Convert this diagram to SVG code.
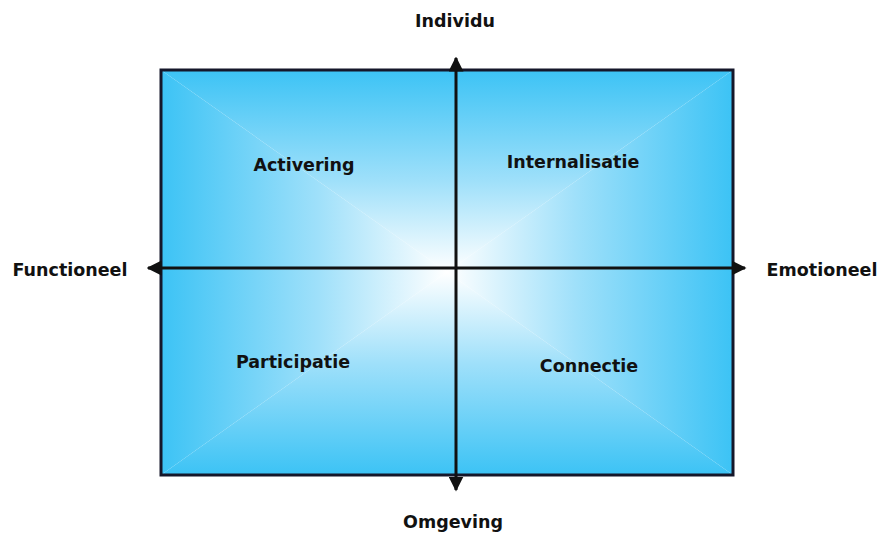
<svg xmlns="http://www.w3.org/2000/svg" width="882" height="534" viewBox="0 0 882 534">
<style>
.lbl{font-family:"DejaVu Sans",Verdana,sans-serif;font-weight:bold;font-size:17.5px;fill:#111;text-anchor:middle;dominant-baseline:central}
.axis{stroke:#111;stroke-width:3;fill:none}
</style>
<defs>
<linearGradient id="gT" x1="0" y1="0" x2="0" y2="1"><stop offset="0" stop-color="#3cc3f5"/><stop offset="0.55" stop-color="#9fe0fa"/><stop offset="1" stop-color="#ffffff"/></linearGradient>
<linearGradient id="gB" x1="0" y1="1" x2="0" y2="0"><stop offset="0" stop-color="#3cc3f5"/><stop offset="0.55" stop-color="#9fe0fa"/><stop offset="1" stop-color="#ffffff"/></linearGradient>
<linearGradient id="gL" x1="0" y1="0" x2="1" y2="0"><stop offset="0" stop-color="#3cc3f5"/><stop offset="0.55" stop-color="#9fe0fa"/><stop offset="1" stop-color="#ffffff"/></linearGradient>
<linearGradient id="gR" x1="1" y1="0" x2="0" y2="0"><stop offset="0" stop-color="#3cc3f5"/><stop offset="0.55" stop-color="#9fe0fa"/><stop offset="1" stop-color="#ffffff"/></linearGradient>
<marker id="ah" viewBox="0 0 10 10" refX="9" refY="5" markerWidth="5" markerHeight="5" orient="auto-start-reverse" markerUnits="strokeWidth"><path d="M0,0 L10,5 L0,10 z" fill="#111"/></marker>
</defs>
<g id="background">
<polygon points="161,70 733,70 447,272" fill="url(#gT)"/>
<polygon points="161,475 733,475 447,272" fill="url(#gB)"/>
<polygon points="161,70 161,475 447,272" fill="url(#gL)"/>
<polygon points="733,70 733,475 447,272" fill="url(#gR)"/>
<rect x="161" y="70" width="572" height="405" fill="none" stroke="#15172a" stroke-width="3"/>
</g>
<g id="connectors">
<line class="axis" x1="456" y1="490" x2="456" y2="58" marker-end="url(#ah)" marker-start="url(#ah)"/>
<line class="axis" x1="148" y1="268" x2="745" y2="268" marker-end="url(#ah)" marker-start="url(#ah)"/>
</g>
<g id="individu"><text class="lbl" x="455" y="21">Individu</text></g>
<g id="omgeving"><text class="lbl" x="453" y="522">Omgeving</text></g>
<g id="functioneel"><text class="lbl" x="70" y="270">Functioneel</text></g>
<g id="emotioneel"><text class="lbl" x="822" y="270">Emotioneel</text></g>
<g id="activering"><text class="lbl" x="304" y="165">Activering</text></g>
<g id="internalisatie"><text class="lbl" x="573" y="162">Internalisatie</text></g>
<g id="participatie"><text class="lbl" x="293" y="362">Participatie</text></g>
<g id="connectie"><text class="lbl" x="589" y="366">Connectie</text></g>
</svg>
